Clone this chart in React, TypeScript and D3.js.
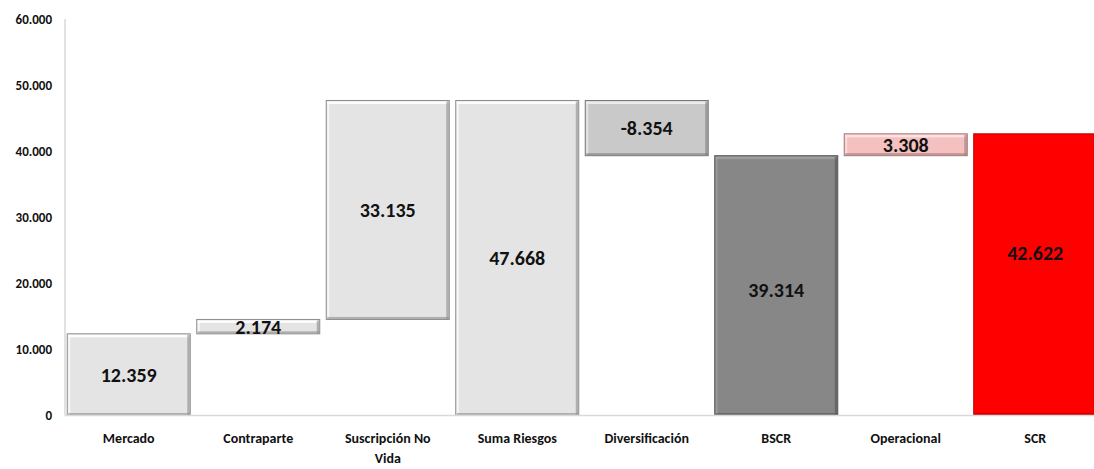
import React from "react";
import * as d3 from "d3";

// Datos del gráfico de cascada (SCR)
const categories = [
  "Mercado",
  "Contraparte",
  "Suscripción No Vida",
  "Suma Riesgos",
  "Diversificación",
  "BSCR",
  "Operacional",
  "SCR",
];
const values = [12359, 2174, 33135, 47668, -8354, 39314, 3308, 42622];
// "total" = barra desde 0, "delta" = barra flotante
const kinds = ["delta", "delta", "delta", "total", "delta", "total", "delta", "total"];
const yTicks = [0, 10000, 20000, 30000, 40000, 50000, 60000];

const fills = ["#e4e4e4", "#e4e4e4", "#e4e4e4", "#e4e4e4", "#c9c9c9", "#878787", "#f4c0c0", "#ff0000"];
const strokes = ["#8c8c8c", "#8c8c8c", "#8c8c8c", "#8c8c8c", "#7a7a7a", "#555555", "#a07878", "#b00000"];
// ajuste vertical manual de algunas etiquetas
const labelNudge: Record<string, number> = { SCR: -22, BSCR: 4 };

const W = 1094;
const H = 469;
const FONT = "Calibri, Carlito, Lato, sans-serif";

const esLocale = d3.formatLocale({
  decimal: ",",
  thousands: ".",
  grouping: [3],
  currency: ["", " €"],
  minus: "-",
});
const fmt = esLocale.format(",");

const App: React.FC = () => {
  const x = d3
    .scaleBand<string>()
    .domain(categories)
    .range([64, 1100])
    .paddingInner(0.05)
    .paddingOuter(0.025);
  const y = d3.scaleLinear().domain([0, 60000]).range([415.5, 19]);

  // calcular inicio y fin de cada barra
  let running = 0;
  const bars = categories.map((c, i) => {
    let y0: number, y1: number;
    if (kinds[i] === "total") {
      y0 = 0;
      y1 = values[i];
      running = values[i];
    } else {
      y0 = running;
      y1 = running + values[i];
      running = y1;
    }
    return { c, v: values[i], lo: Math.min(y0, y1), hi: Math.max(y0, y1), i };
  });

  return (
    <svg
      width={W}
      height={H}
      style={{ position: "absolute", left: 0, top: 0, background: "#fff" }}
      fontFamily={FONT}
    >
      {/* Ejes */}
      <line x1={65} x2={65} y1={19} y2={415.5} stroke="#d9d9d9" strokeWidth={1.5} />
      {yTicks.map((t) => (
        <text
          key={t}
          x={52}
          y={y(t)}
          dy="0.35em"
          textAnchor="end"
          fontSize={13}
          fontWeight="bold"
          fill="#111"
        >
          {fmt(t)}
        </text>
      ))}

      {/* Barras */}
      {bars.map((b) => {
        const bx = x(b.c)!;
        const bw = x.bandwidth();
        const top = y(b.hi);
        const h = y(b.lo) - top;
        const base = d3.color(fills[b.i])!;
        const light = base.brighter(0.5).formatHex();
        const dark = d3.color(strokes[b.i])!.formatHex();
        return (
          <g key={b.c}>
            <rect x={bx} y={top} width={bw} height={h} fill={fills[b.i]} stroke={dark} strokeWidth={1} />
            {/* bisel */}
            <rect x={bx + 1} y={top + 1} width={bw - 2} height={2.5} fill={light} opacity={0.9} />
            <rect x={bx + 1} y={top + 1} width={2} height={h - 2} fill={light} opacity={0.7} />
            <rect x={bx + bw - 3} y={top + 1} width={2.5} height={h - 1.5} fill={dark} opacity={0.6} />
            <rect x={bx + 1} y={top + h - 2.5} width={bw - 1.5} height={2} fill={dark} opacity={0.6} />
          </g>
        );
      })}

      {/* Etiquetas de valor */}
      {bars.map((b) => (
        <text
          key={b.c}
          x={x(b.c)! + x.bandwidth() / 2}
          y={(y(b.lo) + y(b.hi)) / 2 + (labelNudge[b.c] ?? 0)}
          dy="0.36em"
          textAnchor="middle"
          fontSize={20}
          fontWeight="bold"
          fill="#111"
        >
          {fmt(b.v)}
        </text>
      ))}

      {/* Eje X */}
      <line x1={65} x2={W} y1={415.5} y2={415.5} stroke="#d9d9d9" strokeWidth={1.5} />
      {categories.map((c) => {
        const cx = x(c)! + x.bandwidth() / 2;
        const lines = c === "Suscripción No Vida" ? ["Suscripción No", "Vida"] : [c];
        return (
          <text key={c} x={cx} y={443} textAnchor="middle" fontSize={14} fontWeight="bold" fill="#111">
            {lines.map((l, k) => (
              <tspan key={k} x={cx} dy={k === 0 ? 0 : 20}>
                {l}
              </tspan>
            ))}
          </text>
        );
      })}
    </svg>
  );
};

export default App;
